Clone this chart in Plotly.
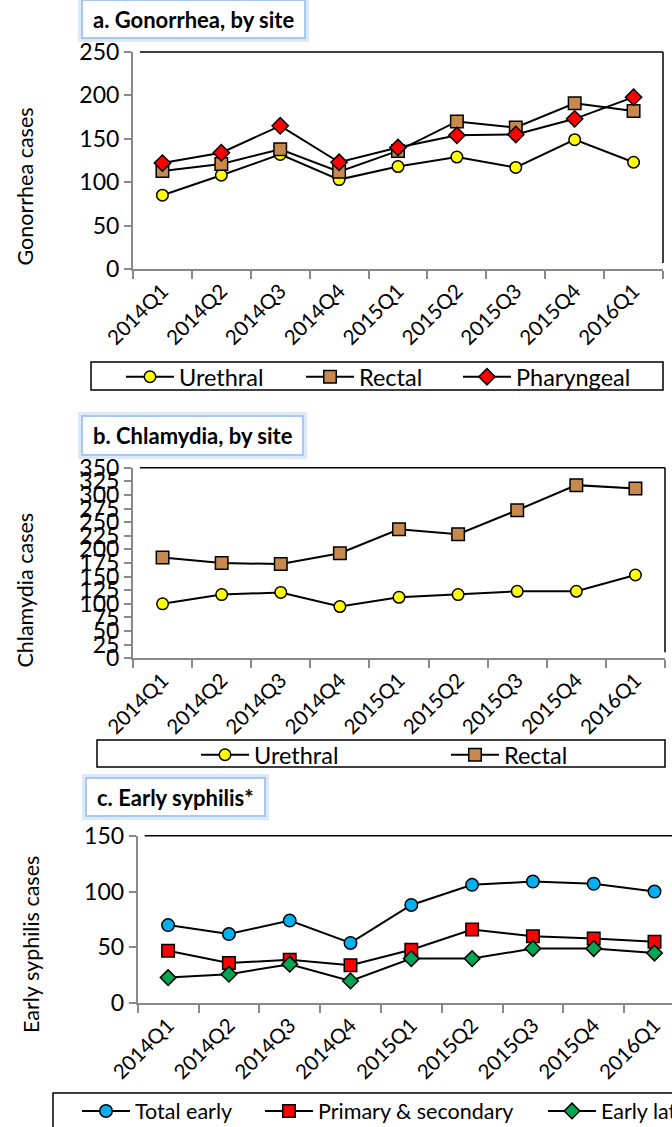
import plotly.graph_objects as go

# ---- data -----------------------------------------------------------------
quarters = ["2014Q1", "2014Q2", "2014Q3", "2014Q4", "2015Q1",
            "2015Q2", "2015Q3", "2015Q4", "2016Q1"]

gono_urethral = [85, 108, 132, 103, 118, 129, 117, 149, 123]
gono_rectal = [113, 121, 138, 112, 136, 170, 163, 191, 182]
gono_pharyngeal = [122, 134, 165, 123, 140, 154, 155, 173, 198]

chla_urethral = [100, 117, 121, 95, 112, 117, 123, 123, 153]
chla_rectal = [185, 175, 173, 193, 237, 228, 272, 318, 312]

syph_total = [70, 62, 74, 54, 88, 106, 109, 107, 100]
syph_ps = [47, 36, 39, 34, 48, 66, 60, 58, 55]
syph_latent = [23, 26, 35, 20, 40, 40, 49, 49, 45]

# ---- page geometry (pixels) -------------------------------------------------
W, H = 760, 1127
FONT = "Lato"
GRAY = "#898989"


def fx(px):
    return px / W


def fy(py):
    return 1 - py / H


# plot-area boxes: left, right, top, bottom
panels = {
    "a": dict(l=133, r=663, t=52, b=269, ymax=250, dtick=50),
    "b": dict(l=133, r=665, t=467.7, b=658.3, ymax=350, dtick=25),
    "c": dict(l=137.7, r=684.9, t=835.7, b=1003.3, ymax=150, dtick=50),
}
axis_ids = {"a": ("", "4"), "b": ("2", "5"), "c": ("3", "6")}

fig = go.Figure()


def add_series(panel, name, values, symbol, size, color, legend):
    main = axis_ids[panel][0]
    fig.add_trace(go.Scatter(
        x=quarters, y=values, name=name, mode="lines+markers",
        xaxis="x" + main, yaxis="y" + main, legend=legend,
        line=dict(color="black", width=2),
        marker=dict(symbol=symbol, size=size, color=color,
                    line=dict(color="black", width=1.5)),
        cliponaxis=False,
    ))


add_series("a", "Urethral", gono_urethral, "circle", 11.5, "#FFFF00", "legend")
add_series("a", "Rectal", gono_rectal, "square", 12.5, "#C8894F", "legend2")
add_series("a", "Pharyngeal", gono_pharyngeal, "diamond", 12.5, "#FF0000", "legend3")
add_series("b", "Urethral", chla_urethral, "circle", 11.5, "#FFFF00", "legend4")
add_series("b", "Rectal", chla_rectal, "square", 12.5, "#C8894F", "legend5")
add_series("c", "Total early", syph_total, "circle", 12.5, "#00B0F0", "legend6")
add_series("c", "Primary & secondary", syph_ps, "square", 12.5, "#FF0000", "legend7")
add_series("c", "Early latent", syph_latent, "diamond", 12, "#00A651", "legend8")

layout = dict(
    width=W, height=H,
    margin=dict(l=0, r=0, t=0, b=0, autoexpand=False),
    paper_bgcolor="white", plot_bgcolor="white",
    font=dict(family=FONT, color="black"),
    showlegend=True,
)

shapes = []
annotations = []

for key, p in panels.items():
    main, over = axis_ids[key]
    xdom = [fx(p["l"]), fx(p["r"])]
    ydom = [fy(p["b"]), fy(p["t"])]
    # main axes: outside ticks + labels
    layout["xaxis" + main] = dict(
        domain=xdom, anchor="y" + main, type="category",
        categoryorder="array", categoryarray=quarters,
        range=[-0.5, 8.5], tickson="boundaries",
        ticks="outside", ticklen=8, tickwidth=2, tickcolor=GRAY,
        showline=True, linecolor=GRAY, linewidth=2,
        showgrid=False, zeroline=False, tickangle=-45,
        tickfont=dict(family=FONT, size=20.5, color="black"),
    )
    layout["yaxis" + main] = dict(
        domain=ydom, anchor="x" + main, range=[0, p["ymax"]],
        tickmode="linear", tick0=0, dtick=p["dtick"],
        ticks="outside", ticklen=7, tickwidth=2, tickcolor=GRAY,
        showline=True, linecolor=GRAY, linewidth=2,
        showgrid=False, zeroline=False,
        tickfont=dict(family=FONT, size=23, color="black"),
    )
    # overlay axes supplying the inner half of the crossing tick marks
    layout["xaxis" + over] = dict(
        domain=xdom, anchor="y" + main, overlaying="x" + main,
        range=[-0.5, 8.5], tickmode="array",
        tickvals=[i - 0.5 for i in range(len(quarters) + 1)],
        ticks="inside", ticklen=6, tickwidth=2, tickcolor=GRAY,
        showticklabels=False, showline=False, showgrid=False, zeroline=False,
    )
    layout["yaxis" + over] = dict(
        domain=ydom, anchor="x" + main, overlaying="y" + main,
        range=[0, p["ymax"]], tickmode="linear", tick0=0, dtick=p["dtick"],
        ticks="inside", ticklen=7, tickwidth=2, tickcolor=GRAY,
        showticklabels=False, showline=False, showgrid=False, zeroline=False,
    )
    # black frame on the top and right of the plot area
    shapes.append(dict(type="line", xref="paper", yref="paper",
                       x0=fx(p["l"] + 7), x1=fx(p["r"]), y0=fy(p["t"]), y1=fy(p["t"]),
                       line=dict(color="black", width=1.5)))
    shapes.append(dict(type="line", xref="paper", yref="paper",
                       x0=fx(p["r"]), x1=fx(p["r"]), y0=fy(p["t"]), y1=fy(p["b"] - 6),
                       line=dict(color="black", width=1.5)))

# panel titles in glowing boxes: (text, left, right, top, bottom)
titles = [
    ("a. Gonorrhea, by site", 83, 304, 1, 37),
    ("b. Chlamydia, by site", 83, 302, 417, 454),
    ("c. Early syphilis*", 87, 264, 779, 815),
]
for text, l, r, t, b in titles:
    shapes.append(dict(type="rect", xref="paper", yref="paper",
                       x0=fx(l - 3), x1=fx(r + 3), y0=fy(b + 3), y1=fy(t - 3),
                       line=dict(color="#dce9f9", width=4), fillcolor="white", layer="above"))
    shapes.append(dict(type="rect", xref="paper", yref="paper",
                       x0=fx(l - 1), x1=fx(r + 1), y0=fy(b + 1), y1=fy(t - 1),
                       line=dict(color="#a8c8ef", width=2), fillcolor="white", layer="above"))
    annotations.append(dict(text="<b>%s</b>" % text, xref="paper", yref="paper",
                            x=fx((l + r) / 2), y=fy((t + b) / 2),
                            xanchor="center", yanchor="middle", showarrow=False,
                            font=dict(family=FONT, size=22, color="black")))

# y-axis titles
for text, xc, yc in [("Gonorrhea cases", 24.5, 187),
                     ("Chlamydia cases", 24.5, 590),
                     ("Early syphilis cases", 31, 945)]:
    annotations.append(dict(text=text, xref="paper", yref="paper",
                            x=fx(xc), y=fy(yc), textangle=-90,
                            xanchor="center", yanchor="middle", showarrow=False,
                            font=dict(family=FONT, size=21.5, color="black")))

# legend frames: left, right, top, bottom
for l, r, t, b in [(91, 663, 362, 390), (97, 665, 740, 767), (53, 740, 1093, 1140)]:
    shapes.append(dict(type="rect", xref="paper", yref="paper",
                       x0=fx(l), x1=fx(r), y0=fy(b), y1=fy(t),
                       line=dict(color="black", width=1.5), fillcolor="rgba(0,0,0,0)"))

# one legend per series so each entry sits where it belongs: (id, symbol x, y, font size)
LEG_OFF = 30
legend_pos = [
    ("legend", 151, 377, 23.5), ("legend2", 331, 377, 23.5), ("legend3", 488, 377, 23.5),
    ("legend4", 226, 755, 23.5), ("legend5", 476, 755, 23.5),
    ("legend6", 107, 1111, 21.5), ("legend7", 290, 1111, 21.5), ("legend8", 573, 1111, 21.5),
]
for lid, sx, sy, fs in legend_pos:
    layout[lid] = dict(
        x=fx(sx - LEG_OFF), y=fy(sy), xanchor="left", yanchor="middle",
        orientation="h", bgcolor="rgba(0,0,0,0)", borderwidth=0,
        itemwidth=48, font=dict(family=FONT, size=fs, color="black"),
    )

layout["shapes"] = shapes
layout["annotations"] = annotations
fig.update_layout(**layout)

fig.write_html(
    "out.html",
    post_script="document.documentElement.style.overflow='hidden';"
                "document.body.style.overflow='hidden';",
)
